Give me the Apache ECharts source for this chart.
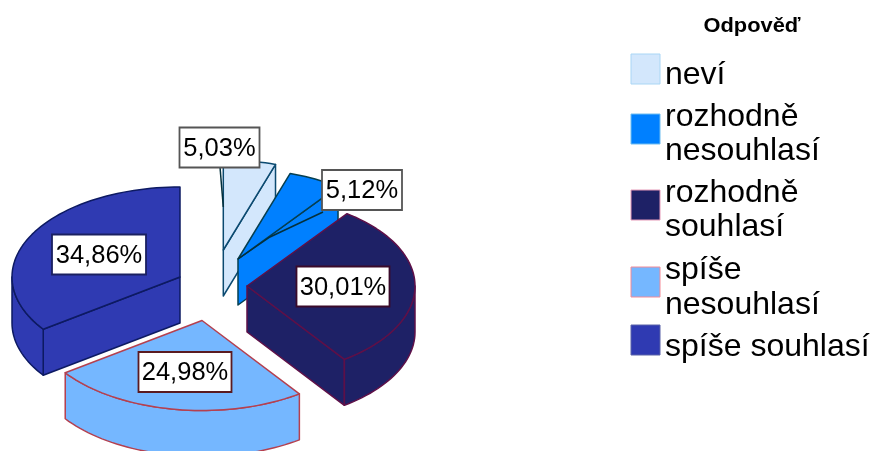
<!DOCTYPE html>
<html>
<head>
<meta charset="utf-8">
<style>html,body{margin:0;padding:0;background:#fff}#c{width:871px;height:451px}</style>
<script src="https://cdn.jsdelivr.net/npm/echarts@6/dist/echarts.min.js"></script>
</head>
<body>
<div id="c"></div>
<script>
// ---- data ----
const legendTitle = 'Odpověď';
const categories = ['neví', 'rozhodně nesouhlasí', 'rozhodně souhlasí', 'spíše nesouhlasí', 'spíše souhlasí'];
const legendLines = [['neví'], ['rozhodně', 'nesouhlasí'], ['rozhodně', 'souhlasí'], ['spíše', 'nesouhlasí'], ['spíše souhlasí']];
const shares = [5.03, 5.12, 30.01, 24.98, 34.86];
const shareLabels = ['5,03%', '5,12%', '30,01%', '24,98%', '34,86%'];

// ---- styling ----
const fills = ['#d3e7fc', '#0080ff', '#1e2166', '#75b7ff', '#2f3ab2'];
const edges = ['#0b4a70', '#063f50', '#5e1048', '#b5404f', '#0d1a62'];
const swatchEdges = ['#a9d6f5', '#6fbdf0', '#e59ab8', '#f58a96', '#5a62a8'];
const labelEdges = ['#555555', '#555555', '#3a0a2a', '#5a1a20', '#1a2060'];
const paintOrder = [0, 1, 4, 2, 3];

// ---- layout of the projected pie ----
const pieCenter = [208, 286], rx = 168, ry = 90, depth = 46;
const explode = [[15.3, -36], [30, -27], [39, 0], [-6, 34.5], [-28, -9]];
const labelCenters = [[219.5, 147.5], [362, 190], [343, 286.5], [185, 372], [99, 254.5]];
const labelWidths = [80, 80, 93, 93, 94];
const leaders = [
  [[220, 167], [223.3, 207]],
  [[323, 212], [270, 237], [238, 259]],
  null, null, null
];
const swatchTops = [54, 114, 190, 267, 325];
const legendBaselines = [[85], [127, 161], [203, 237], [280, 315], [357]];

const total = shares.reduce((a, b) => a + b, 0);
let run = 0;
const startShares = shares.map(v => { const s = run; run += v; return s; });

function pt(apex, deg, dy) {
  const t = deg * Math.PI / 180;
  return [apex[0] + rx * Math.sin(t), apex[1] - ry * Math.cos(t) + (dy || 0)];
}
function arc(apex, a0, a1, dy) {
  const out = [];
  const n = Math.max(2, Math.ceil((a1 - a0) / 2));
  for (let i = 0; i <= n; i++) out.push(pt(apex, a0 + (a1 - a0) * i / n, dy));
  return out;
}

function renderSlice(params, api) {
  const i = params.dataIndex;
  const a0 = api.value(1) / total * 360;
  const a1 = a0 + api.value(0) / total * 360;
  const apex = [pieCenter[0] + explode[i][0], pieCenter[1] + explode[i][1]];
  const z = paintOrder.indexOf(i) * 10 + 1;
  const st = { fill: fills[i], stroke: edges[i], lineWidth: 1.5, lineJoin: 'round' };
  const kids = [];
  const poly = (pts, zz) => kids.push({ type: 'polygon', z2: z + (zz || 0), shape: { points: pts }, style: st });
  const sideWall = deg => {
    const p = pt(apex, deg);
    poly([apex, p, [p[0], p[1] + depth], [apex[0], apex[1] + depth]]);
  };
  if (Math.sin(a0 * Math.PI / 180) < -1e-6) sideWall(a0);
  if (Math.sin(a1 * Math.PI / 180) > 1e-6) sideWall(a1);
  const w0 = Math.max(a0, 90), w1 = Math.min(a1, 270);
  if (w1 > w0) {
    poly(arc(apex, w0, w1, 0).concat(arc(apex, w0, w1, depth).reverse()), 1);
  }
  poly([apex].concat(arc(apex, a0, a1, 0)), 2);
  return { type: 'group', children: kids };
}

function renderLabel(params, api) {
  const i = params.dataIndex;
  const c = labelCenters[i], w = labelWidths[i], h = 40;
  const kids = [];
  if (leaders[i]) kids.push({
    type: 'polyline', z2: 100, shape: { points: leaders[i] },
    style: { fill: null, stroke: '#04303c', lineWidth: 1.5 }
  });
  kids.push({
    type: 'rect', z2: 101, shape: { x: c[0] - w / 2, y: c[1] - h / 2, width: w, height: h },
    style: { fill: '#ffffff', stroke: labelEdges[i], lineWidth: 1.8 }
  });
  kids.push({
    type: 'text', z2: 102, x: c[0], y: c[1] + 1,
    style: { text: shareLabels[i], font: '25.5px "Liberation Sans", Arial, sans-serif', fill: '#000', align: 'center', verticalAlign: 'middle' }
  });
  return { type: 'group', children: kids };
}

function renderLegend(params, api) {
  const i = params.dataIndex;
  const kids = [{
    type: 'rect', shape: { x: 631, y: swatchTops[i], width: 29, height: 30 },
    style: { fill: fills[i], stroke: swatchEdges[i], lineWidth: 1 }
  }];
  legendLines[i].forEach((line, k) => {
    kids.push({
      type: 'text', x: 665, y: legendBaselines[i][k] - 10,
      style: { text: line, font: '32px "Liberation Sans", Arial, sans-serif', fill: '#000', align: 'left', verticalAlign: 'middle' }
    });
  });
  return { type: 'group', children: kids };
}

const chart = echarts.init(document.getElementById('c'), null, { renderer: 'canvas' });
chart.setOption({
  animation: false,
  backgroundColor: '#ffffff',
  graphic: [{
    type: 'text', x: 752, y: 27, scaleX: 1.12,
    style: { text: legendTitle, font: 'bold 19.5px "Liberation Sans", Arial, sans-serif', fill: '#000', align: 'center', verticalAlign: 'middle' }
  }],
  series: [
    { type: 'custom', name: 'slices', coordinateSystem: 'none', silent: true, renderItem: renderSlice,
      data: shares.map((v, i) => ({ name: categories[i], value: [v, startShares[i]] })) },
    { type: 'custom', name: 'labels', coordinateSystem: 'none', silent: true, z: 5, renderItem: renderLabel,
      data: shares.map((v, i) => ({ name: categories[i], value: [v] })) },
    { type: 'custom', name: 'legend', coordinateSystem: 'none', silent: true, renderItem: renderLegend,
      data: categories.map((c, i) => ({ name: c, value: [shares[i]] })) }
  ]
});
</script>
</body>
</html>
